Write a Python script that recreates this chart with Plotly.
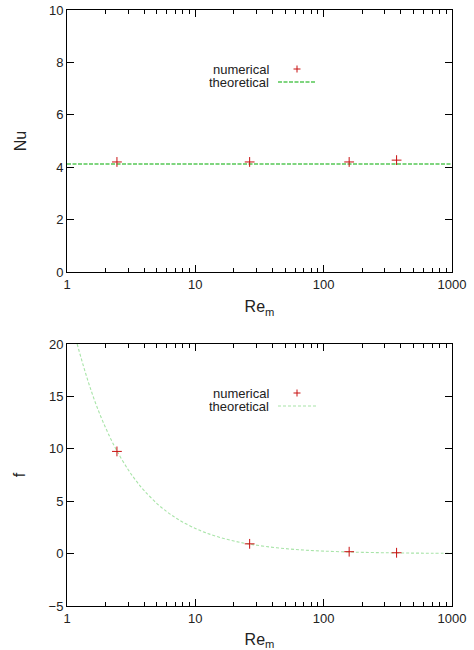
import plotly.graph_objects as go

# ---- data ----
re_num = [2.45, 26.5, 158, 370]
nu_num = [4.2, 4.2, 4.2, 4.27]
f_num = [9.75, 0.93, 0.18, 0.08]

re_theo_nu = [1, 1000]
nu_theo = [4.12, 4.12]

re_theo_f = [1.2, 1.35, 1.5, 1.7, 2.0, 2.4, 3.0, 3.5, 4.0, 5.0, 6.0, 7.0, 8.0,
             10, 12, 15, 20, 26, 35, 50, 70, 100, 150, 200, 300, 500, 700, 1000]
f_theo = [20.0, 17.8, 16.0, 14.1, 12.0, 10.0, 8.0, 6.86, 6.0, 4.8, 4.0, 3.43, 3.0,
          2.4, 2.0, 1.6, 1.2, 0.92, 0.69, 0.48, 0.34, 0.24, 0.16, 0.12, 0.08, 0.048, 0.034, 0.024]

x_ticks = [1, 10, 100, 1000]
nu_ticks = [0, 2, 4, 6, 8, 10]
f_ticks = [-5, 0, 5, 10, 15, 20]

FONT = "Liberation Sans, Arial, sans-serif"
RED = "#c81010"
GREEN_TOP = "#55c855"
GREEN_BOT = "#a8e4a8"

W, H = 474, 650
L, T = 67, 10
PW, PH = 385, 596

fig = go.Figure()
fig.add_trace(go.Scatter(x=re_theo_nu, y=nu_theo, mode="lines",
                         line=dict(color=GREEN_TOP, width=1.5, dash="4px,1.5px"),
                         xaxis="x", yaxis="y", showlegend=False))
fig.add_trace(go.Scatter(x=re_num, y=nu_num, mode="markers",
                         marker=dict(symbol="cross-thin", size=7, line=dict(color=RED, width=1)),
                         xaxis="x", yaxis="y", showlegend=False))
fig.add_trace(go.Scatter(x=re_theo_f, y=f_theo, mode="lines", line_shape="spline",
                         line=dict(color=GREEN_BOT, width=1.1, dash="3px,2px"),
                         xaxis="x2", yaxis="y2", showlegend=False))
fig.add_trace(go.Scatter(x=re_num, y=f_num, mode="markers",
                         marker=dict(symbol="cross-thin", size=7, line=dict(color=RED, width=1)),
                         xaxis="x2", yaxis="y2", showlegend=False))

def xaxis(anchor):
    return dict(type="log", range=[0, 3], tickvals=x_ticks, ticktext=[str(v) for v in x_ticks],
                ticks="inside", ticklen=7, tickcolor="black", showline=True, linecolor="black",
                linewidth=1, mirror="allticks", showgrid=False, zeroline=False,
                minor=dict(ticks="inside", ticklen=4, tickcolor="black", showgrid=False,
                           tickvals=[2, 3, 4, 5, 6, 7, 8, 9, 20, 30, 40, 50, 60, 70, 80, 90,
                                     200, 300, 400, 500, 600, 700, 800, 900]),
                anchor=anchor, title=dict(text="Re<sub>m</sub>", standoff=10),
                tickfont=dict(size=13), automargin=False, ticklabeloverflow="allow")

def yaxis(anchor, rng, ticks, domain, title):
    return dict(range=rng, tickvals=ticks, ticks="inside", ticklen=7, tickcolor="black",
                showline=True, linecolor="black", linewidth=1, mirror="allticks",
                showgrid=False, zeroline=False, anchor=anchor, domain=domain,
                title=dict(text=title, standoff=18), tickfont=dict(size=13),
                automargin=False, ticklabeloverflow="allow")

fig.update_layout(
    width=W, height=H,
    margin=dict(l=L, r=W - L - PW, t=T, b=H - T - PH),
    paper_bgcolor="white", plot_bgcolor="white",
    font=dict(family=FONT, size=13, color="#222222"),
    xaxis=xaxis("y"),
    yaxis=yaxis("x", [0, 10], nu_ticks, [0.5604, 1.0], "Nu"),
    xaxis2=xaxis("y2"),
    yaxis2=yaxis("x2", [-5, 20], f_ticks, [0.0, 0.4396], "f"),
)

# custom legends (text right-aligned, sample to the right); positions in window pixels
def py(pix):
    return (606 - pix) / PH

def px(pix):
    return (pix - 67) / PW

def legend(y1, y2, line_color, line_w, dash):
    for yy, txt in ((y1, "numerical"), (y2, "theoretical")):
        fig.add_annotation(x=px(270), y=py(yy), xref="paper", yref="paper", text=txt,
                           showarrow=False, xanchor="right", yanchor="middle",
                           borderpad=0, height=12, valign="middle", font=dict(size=13))
    fig.add_shape(type="line", xref="paper", yref="paper", x0=px(293.5), x1=px(300.5),
                  y0=py(y1), y1=py(y1), line=dict(color=RED, width=1))
    fig.add_shape(type="line", xref="paper", yref="paper", x0=px(297), x1=px(297),
                  y0=py(y1 - 3.5), y1=py(y1 + 3.5), line=dict(color=RED, width=1))
    fig.add_shape(type="line", xref="paper", yref="paper", x0=px(278), x1=px(316),
                  y0=py(y2), y1=py(y2), line=dict(color=line_color, width=line_w, dash=dash))

legend(69, 82, GREEN_TOP, 1.5, "4px,1.5px")
legend(393, 406, GREEN_BOT, 1.1, "3px,2px")

fig.write_html("out.html", config={"displayModeBar": False},
               post_script="document.body.style.margin='0';")
